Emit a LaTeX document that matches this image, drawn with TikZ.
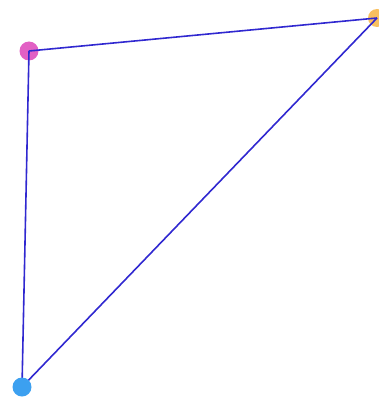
\documentclass[tikz,border=0pt]{standalone}
\definecolor{edgeblue}{RGB}{48,40,208}
\definecolor{dotpink}{RGB}{226,96,196}
\definecolor{dotorange}{RGB}{248,192,96}
\definecolor{dotblue}{RGB}{60,160,240}
\begin{document}
\begin{tikzpicture}[x=1pt, y=-1pt, edge/.style={edgeblue, line width=1.6pt}]
				\useasboundingbox (0,0) rectangle (379,398);
				% 1. 三个顶点
				\coordinate (top) at (29,51);
				\coordinate (corner) at (377,18);
				\coordinate (bottom) at (22,387);
				\fill[dotpink] (top) circle (9.5);
				\fill[dotorange] (corner) circle (9);
				
				% 2. 三条边
				\draw[edge] (top) -- (corner);
				\draw[edge] (top) -- (bottom);
				\draw[edge] (bottom) -- (corner);
				
				% 3. 底部顶点 (盖住线端)
				\fill[dotblue] (bottom) circle (9.5);
			\end{tikzpicture}
\end{document}
